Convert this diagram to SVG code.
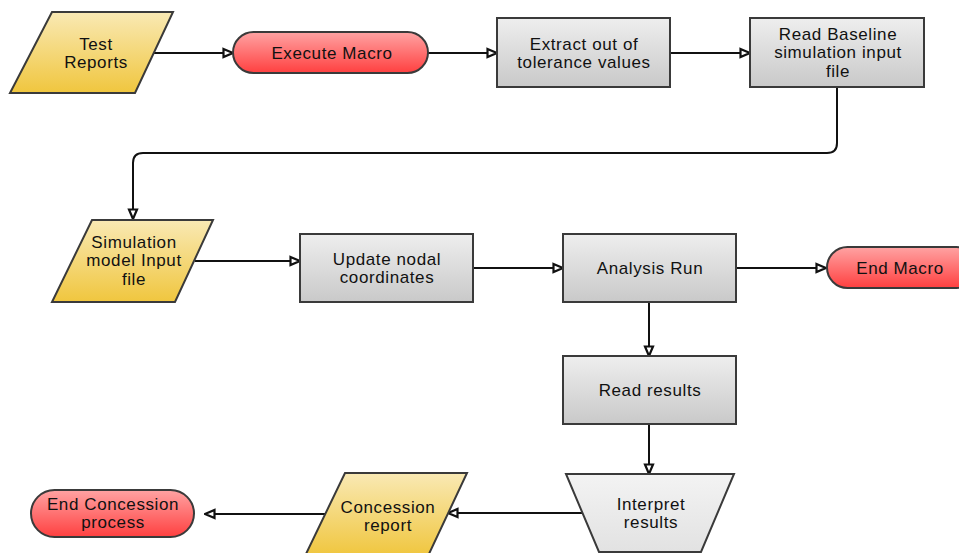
<svg xmlns="http://www.w3.org/2000/svg" width="959" height="553" viewBox="0 0 959 553">
<defs>
<linearGradient id="gy" x1="0" y1="0" x2="0" y2="1"><stop offset="0" stop-color="#f9e9b4"/><stop offset="1" stop-color="#f0c63e"/></linearGradient>
<linearGradient id="gr" x1="0" y1="0" x2="0" y2="1"><stop offset="0" stop-color="#ffa3a3"/><stop offset="1" stop-color="#ff4040"/></linearGradient>
<linearGradient id="gg" x1="0" y1="0" x2="0" y2="1"><stop offset="0" stop-color="#eeeeee"/><stop offset="1" stop-color="#c9c9c9"/></linearGradient>
<linearGradient id="gt" x1="0" y1="0" x2="0" y2="1"><stop offset="0" stop-color="#f3f3f3"/><stop offset="1" stop-color="#e2e2e2"/></linearGradient>
<marker id="arr" viewBox="0 0 12 12" refX="11" refY="6" markerWidth="12" markerHeight="12" markerUnits="userSpaceOnUse" orient="auto">
<path d="M1.5,2 L11,6 L1.5,10 Z" fill="#fff" stroke="#111" stroke-width="2.2"/>
</marker>
</defs>
<style>
.sh{stroke:#3a3a3a;stroke-width:2}
.y{fill:url(#gy)}.r{fill:url(#gr)}.g{fill:url(#gg)}.t{fill:url(#gt)}
text{font-family:"Liberation Sans",Arial,sans-serif;font-size:17px;letter-spacing:0.6px;fill:#111;text-anchor:middle}
.c{fill:none;stroke:#111;stroke-width:2;marker-end:url(#arr)}
</style>
<g id="connectors">
<path class="c" d="M153,53 H233"/>
<path class="c" d="M428,53 H497"/>
<path class="c" d="M670,53 H750"/>
<path class="c" d="M837,87 V143 Q837,153 827,153 H143 Q133,153 133,163 V219"/>
<path class="c" d="M195,261 H300"/>
<path class="c" d="M473,268 H563"/>
<path class="c" d="M736,268 H826"/>
<path class="c" d="M649,302 V356"/>
<path class="c" d="M649,424 V474"/>
<path class="c" d="M582,513 H448"/>
<path class="c" d="M325,514 H205"/>
</g>
<g id="test-reports"><polygon class="sh y" points="52,12 173,12 135,93 10,93"/><text x="96" y="50">Test</text><text x="96" y="68">Reports</text></g>
<g id="execute-macro"><rect class="sh r" x="233" y="32" width="195" height="41" rx="20.5"/><text x="332" y="59">Execute Macro</text></g>
<g id="extract"><rect class="sh g" x="497" y="18" width="173" height="69"/><text x="584" y="50">Extract out of</text><text x="584" y="68">tolerance values</text></g>
<g id="read-baseline"><rect class="sh g" x="750" y="18" width="174" height="69"/><text x="838" y="40">Read Baseline</text><text x="838" y="58">simulation input</text><text x="838" y="77">file</text></g>
<g id="simulation-input"><polygon class="sh y" points="92,220 213,220 175,302 52,302"/><text x="134" y="248">Simulation</text><text x="134" y="266">model Input</text><text x="134" y="285">file</text></g>
<g id="update-nodal"><rect class="sh g" x="300" y="234" width="173" height="68"/><text x="387" y="265">Update nodal</text><text x="387" y="283">coordinates</text></g>
<g id="analysis-run"><rect class="sh g" x="563" y="234" width="173" height="68"/><text x="650" y="274">Analysis Run</text></g>
<g id="end-macro"><rect class="sh r" x="827" y="247" width="150" height="41" rx="20.5"/><text x="900" y="274">End Macro</text></g>
<g id="read-results"><rect class="sh g" x="563" y="356" width="173" height="68"/><text x="650" y="396">Read results</text></g>
<g id="interpret"><polygon class="sh t" points="566,474 734,474 701,552 599,552"/><text x="651" y="510">Interpret</text><text x="651" y="528">results</text></g>
<g id="concession-report"><polygon class="sh y" points="345,473 467,473 428,556 305,556"/><text x="388" y="513">Concession</text><text x="388" y="531">report</text></g>
<g id="end-concession"><rect class="sh r" x="31" y="490" width="163" height="47" rx="23.5"/><text x="113" y="510">End Concession</text><text x="113" y="528">process</text></g>
</svg>
